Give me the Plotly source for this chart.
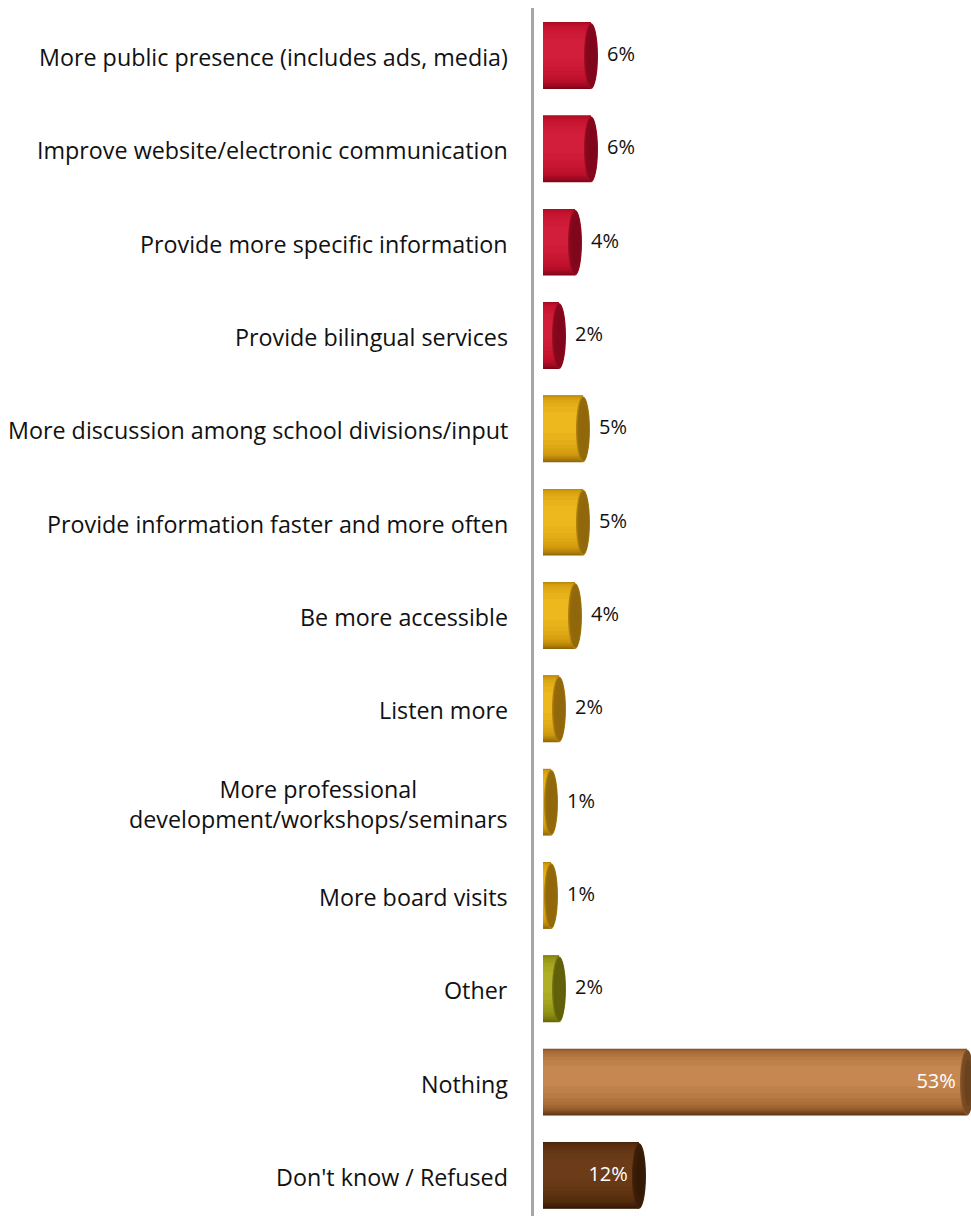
import plotly.graph_objects as go

# Survey responses: suggested improvements
categories = [
    "More public presence (includes ads, media)",
    "Improve website/electronic communication",
    "Provide more specific information",
    "Provide bilingual services",
    "More discussion among school divisions/input",
    "Provide information faster and more often",
    "Be more accessible",
    "Listen more",
    "More professional<br>development/workshops/seminars",
    "More board visits",
    "Other",
    "Nothing",
    "Don't know / Refused",
]
values = [6, 6, 4, 2, 5, 5, 4, 2, 1, 1, 2, 53, 12]
groups = ["red", "red", "red", "red",
          "gold", "gold", "gold", "gold", "gold", "gold",
          "olive", "tan", "brown"]

# colour stops per group: (edge, body, highlight, end face)
PALETTE = {
    "red":   ((122, 6, 24), (188, 14, 42), (210, 30, 58), (132, 8, 28)),
    "gold":  ((140, 100, 8), (210, 154, 14), (236, 184, 30), (146, 106, 12)),
    "olive": ((100, 100, 8), (142, 142, 18), (176, 176, 40), (96, 96, 10)),
    "tan":   ((84, 50, 20), (160, 100, 50), (198, 136, 80), (118, 74, 34)),
    "brown": ((44, 20, 4), (84, 44, 12), (108, 60, 24), (58, 28, 8)),
}

BAR_W = 0.707        # bar thickness in category units
CAP_RX = 0.875       # half-width of the cylinder end face (x units)
N_LAYERS = 12

ypos = list(range(len(categories)))


def mix(a, b, t):
    return tuple(round(a[i] + (b[i] - a[i]) * t) for i in range(3))


def rgb(c):
    return "rgb(%d,%d,%d)" % c


def shade(group, t):
    edge, body, hi, _ = PALETTE[group]
    if t < 0.5:
        return mix(edge, body, t / 0.5)
    return mix(body, hi, (t - 0.5) / 0.5)


fig = go.Figure()

# stacked, narrowing overlays give each bar a rounded cylinder shading
for k in range(N_LAYERS):
    t = k / (N_LAYERS - 1)
    frac = (1 - (t * 0.95) ** 2) ** 0.5
    width = BAR_W * frac
    shift = -0.10 * BAR_W * t
    fig.add_trace(go.Bar(
        x=values,
        y=ypos,
        orientation="h",
        width=width,
        offset=-width / 2 + shift,
        marker=dict(color=[rgb(shade(g, t)) for g in groups], line=dict(width=0)),
        hoverinfo="skip",
        showlegend=False,
    ))

# end faces of the cylinders
shapes = []
for v, yy, g in zip(values, ypos, groups):
    edge, body, hi, face = PALETTE[g]
    for sx, sy, col in [
        (1.0, 1.0, mix(face, body, 0.45)),
        (0.85, 0.96, face),
        (0.55, 0.7, mix(face, edge, 0.35)),
    ]:
        shapes.append(dict(
            type="circle", xref="x", yref="y",
            x0=v - CAP_RX * sx + (1 - sx) * CAP_RX * 0.4,
            x1=v + CAP_RX * sx + (1 - sx) * CAP_RX * 0.4,
            y0=yy - BAR_W / 2 * sy, y1=yy + BAR_W / 2 * sy,
            fillcolor=rgb(col), line=dict(width=0), layer="above",
        ))

# value labels: outside for short bars, inside (white) for long bars
out_x, out_y, out_t = [], [], []
in_x, in_y, in_t = [], [], []
for v, yy in zip(values, ypos):
    if v >= 10:
        in_x.append(v - 1.4); in_y.append(yy); in_t.append(f"{v}%")
    else:
        out_x.append(v + 2.0); out_y.append(yy); out_t.append(f"{v}%")

fig.add_trace(go.Scatter(
    x=out_x, y=out_y, text=out_t, mode="text", textposition="middle right",
    textfont=dict(family="Open Sans", size=20, color="#111111"),
    hoverinfo="skip", showlegend=False, cliponaxis=False,
))
fig.add_trace(go.Scatter(
    x=in_x, y=in_y, text=in_t, mode="text", textposition="middle left",
    textfont=dict(family="Open Sans", size=20, color="#ffffff"),
    hoverinfo="skip", showlegend=False, cliponaxis=False,
))

# category labels
annotations = []
for cat, yy in zip(categories, ypos):
    annotations.append(dict(
        x=0, xref="paper", y=yy, yref="y",
        xanchor="right", yanchor="middle", xshift=-24, yshift=-1,
        text=cat, showarrow=False, align="center",
        font=dict(family="Open Sans", size=23.3, color="#111111"),
    ))

fig.update_layout(
    width=971, height=1216, autosize=False,
    margin=dict(l=534, r=0, t=8, b=0, pad=0),
    paper_bgcolor="white", plot_bgcolor="white",
    barmode="overlay",
    shapes=shapes,
    annotations=annotations,
    xaxis=dict(range=[-1.125, 53.5], visible=False, fixedrange=True),
    yaxis=dict(range=[12.43, -0.514], showticklabels=False, showgrid=False,
               zeroline=False, showline=True, linecolor="#a6a6a6",
               linewidth=3, ticks="", fixedrange=True),
)

fig.write_html("out.html")
